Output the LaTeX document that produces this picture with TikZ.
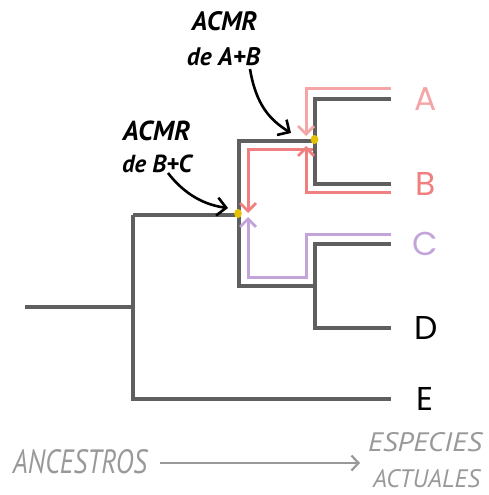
\documentclass[tikz,border=0pt]{standalone}
\usepackage{fontspec}
\setmainfont{Poppins}
\newfontfamily\handfont{PT Sans}
\usetikzlibrary{arrows.meta}
\definecolor{treegray}{HTML}{5F5F5F}
\definecolor{pinkA}{HTML}{F5A5A5}
\definecolor{redB}{HTML}{F07F7F}
\definecolor{lilac}{HTML}{C2A4DA}
\definecolor{softgray}{HTML}{999999}
\definecolor{dotyellow}{HTML}{E5C100}
\tikzset{
  tree/.style={draw=treegray, line width=3.2pt},
  trail/.style={line width=3pt, -{Straight Barb[length=8pt,width=16pt,line width=2.7pt]}},
  note/.style={black, line width=2.6pt, -{Straight Barb[length=9pt,width=18pt,line width=2.6pt]}},
  tip/.style={inner sep=0pt, font=\fontsize{33}{33}\selectfont},
  hand/.style={inner sep=0pt}
}
\begin{document}
\begin{tikzpicture}[x=1pt,y=-1pt]
\useasboundingbox (0,0) rectangle (488,495);
% tree coordinates
\coordinate (root) at (25,307);
\coordinate (nE) at (133,307);
\coordinate (nEtop) at (133,215);
\coordinate (nEbot) at (133,399);
\coordinate (endE) at (391,399);
\coordinate (nBC) at (239,215);
\coordinate (nBCtop) at (239,141);
\coordinate (nBCbot) at (239,286);
\coordinate (nAB) at (315,141);
\coordinate (nABtop) at (315,99);
\coordinate (nABbot) at (315,184);
\coordinate (endA) at (391,99);
\coordinate (endB) at (391,184);
\coordinate (nCD) at (315,286);
\coordinate (nCDtop) at (315,244);
\coordinate (nCDbot) at (315,328);
\coordinate (endC) at (391,244);
\coordinate (endD) at (391,328);
% tree
\draw[tree] (root) -- (nE);
\draw[tree] (nEtop) -- (nEbot) -- (endE);
\draw[tree] (nEtop) -- (nBC);
\draw[tree] (nAB) -- (nBCtop) -- (nBCbot) -- (nCD);
\draw[tree] (endA) -- (nABtop) -- (nABbot) -- (endB);
\draw[tree] (endC) -- (nCDtop) -- (nCDbot) -- (endD);
% trails
\coordinate (tA0) at (391,88);
\coordinate (tA1) at (306,136);
\coordinate (tB0) at (391,192);
\coordinate (tB1) at (306,146);
\coordinate (tBB0) at (313,149);
\coordinate (tBB1) at (248,213);
\coordinate (tC0) at (391,234);
\coordinate (tC1) at (306,277);
\coordinate (tC2) at (248,217);
\draw[trail, pinkA] (tA0) -| (tA1);
\draw[trail, redB] (tB0) -| (tB1);
\draw[trail, redB] (tBB0) -| (tBB1);
\draw[trail, lilac] (tC0) -| (tC1) -| (tC2);
% MRCA dots
\fill[dotyellow] (314.5,139.5) ellipse [x radius=3.8pt, y radius=4.6pt];
\fill[dotyellow] (238,213.5) ellipse [x radius=3.8pt, y radius=4.6pt];
% tip labels
\node[tip, text=pinkA] (lA) at (425.5,99) {A};
\node[tip, text=redB] (lB) at (425.5,184) {B};
\node[tip, text=lilac] (lC) at (425.5,244) {C};
\node[tip, text=black] (lD) at (426,327.5) {D};
\node[tip, text=black] (lE) at (424.5,399) {E};
% annotations
\node[hand] (ab1) at (224.5,21.5) {\resizebox{65pt}{!}{\handfont\bfseries\itshape ACMR}};
\node[hand] (ab2) at (223.5,56.5) {\resizebox{73pt}{!}{\handfont\bfseries\itshape de A+B}};
\node[hand] (bc1) at (156.5,131) {\resizebox{67pt}{!}{\handfont\bfseries\itshape ACMR}};
\node[hand] (bc2) at (157,164) {\resizebox{70pt}{!}{\handfont\bfseries\itshape de B+C}};
\coordinate (abS) at (250,69);
\coordinate (abT) at (291,133);
\coordinate (bcS) at (168,173);
\coordinate (bcT) at (228,208);
\draw[note] (abS) .. controls (256,105) and (270,120) .. (abT);
\draw[note] (bcS) .. controls (185,195) and (205,205) .. (bcT);
% bottom axis
\node[hand] (anc) at (80,462) {\resizebox{134pt}{24pt}{\handfont\itshape\color{softgray}ANCESTROS}};
\node[hand] (esp1) at (425,442) {\resizebox{114pt}{19pt}{\handfont\itshape\color{softgray}ESPECIES}};
\node[hand] (esp2) at (426.5,479) {\resizebox{107pt}{18pt}{\handfont\itshape\color{softgray}ACTUALES}};
\coordinate (axS) at (160,463);
\coordinate (axT) at (360,463);
\draw[softgray, line width=2.4pt, -{Straight Barb[length=7pt,width=15pt,line width=2.2pt]}] (axS) -- (axT);
\end{tikzpicture}
\end{document}
